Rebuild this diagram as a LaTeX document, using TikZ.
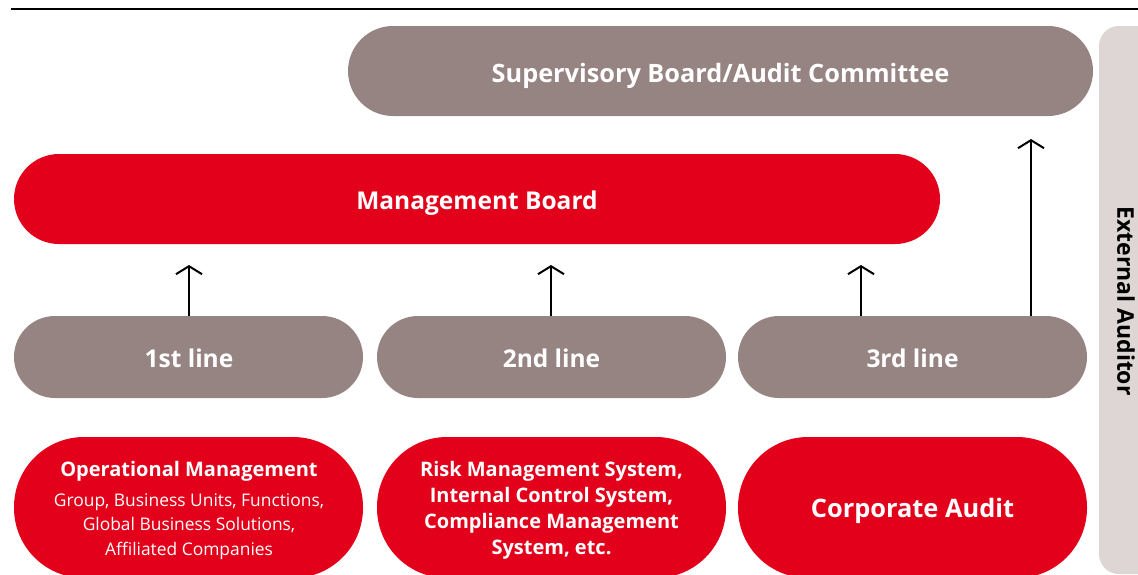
\documentclass[tikz,border=0pt]{standalone}
\usepackage{fontspec}
\setmainfont{Open Sans}
\usetikzlibrary{arrows.meta}
\definecolor{taupe}{HTML}{968482}
\definecolor{cred}{HTML}{E2001A}
\definecolor{lightbar}{HTML}{DDD6D4}
\begin{document}
\begin{tikzpicture}[x=1pt,y=-1pt,
  title/.style={font=\bfseries\fontsize{24.5}{28}\selectfont,text=white},
  linetxt/.style={font=\bfseries\fontsize{24.5}{28}\selectfont,text=white},
  up/.style={draw=black,line width=2pt,-{Straight Barb[length=8pt,width=26pt,line width=2pt]}}]
\useasboundingbox (0,0) rectangle (1138,574);
\clip (0,0) rectangle (1138,574);
% top rule
\draw[line width=2pt] (11,9) -- (1138,9);
% external auditor bar
\fill[lightbar,rounded corners=20pt] (1099,26) rectangle (1170,574);
\node[rotate=-90,font=\bfseries\fontsize{23}{26}\selectfont] (ext) at (1126,301) {External Auditor};
% supervisory board
\fill[taupe,rounded corners=45pt] (348,26) rectangle (1093,116);
\node[title,font=\bfseries\fontsize{25.3}{28}\selectfont] (sup) at (720.5,75.5) {Supervisory Board/Audit Committee};
% management board
\fill[cred,rounded corners=45pt] (14,154) rectangle (940,244);
\node[title] (mb) at (477,203) {Management Board};
% lines
\fill[taupe,rounded corners=41pt] (14,316) rectangle (363,398);
\fill[taupe,rounded corners=41pt] (377,316) rectangle (726,398);
\fill[taupe,rounded corners=41pt] (738,316) rectangle (1087,398);
\node[linetxt] (l1) at (189,358) {1st line};
\node[linetxt] (l2) at (551.5,358) {2nd line};
\node[linetxt] (l3) at (912.5,358) {3rd line};
\coordinate (l1t) at (189,316);
\coordinate (l2t) at (551,316);
\coordinate (l3t) at (861,316);
\coordinate (l3r) at (1031,316);
\coordinate (mb1) at (189,265);
\coordinate (mb2) at (551,265);
\coordinate (mb3) at (861,265);
\coordinate (supb) at (1031,139);
\draw[up] (l1t) -- (mb1);
\draw[up] (l2t) -- (mb2);
\draw[up] (l3t) -- (mb3);
\draw[up] (l3r) -- (supb);
% bottom boxes
\fill[cred,rounded corners=70pt] (14,437) rectangle (363,578);
\fill[cred,rounded corners=70pt] (377,437) rectangle (726,578);
\fill[cred,rounded corners=70pt] (738,437) rectangle (1087,578);
\node[text=white,align=center,font=\fontsize{17.4}{24.5}\selectfont] (op) at (189,510.5)
  {{\bfseries\fontsize{20}{24}\selectfont Operational Management}\\[5pt]Group, Business Units, Functions,\\Global Business Solutions,\\Affiliated Companies};
\node[text=white,align=center,font=\bfseries\fontsize{20}{26}\selectfont] (risk) at (551.5,510)
  {Risk Management System,\\Internal Control System,\\Compliance Management\\System, etc.};
\node[text=white,font=\bfseries\fontsize{25.4}{28}\selectfont] (ca) at (912.5,511) {Corporate Audit};
\end{tikzpicture}
\end{document}
